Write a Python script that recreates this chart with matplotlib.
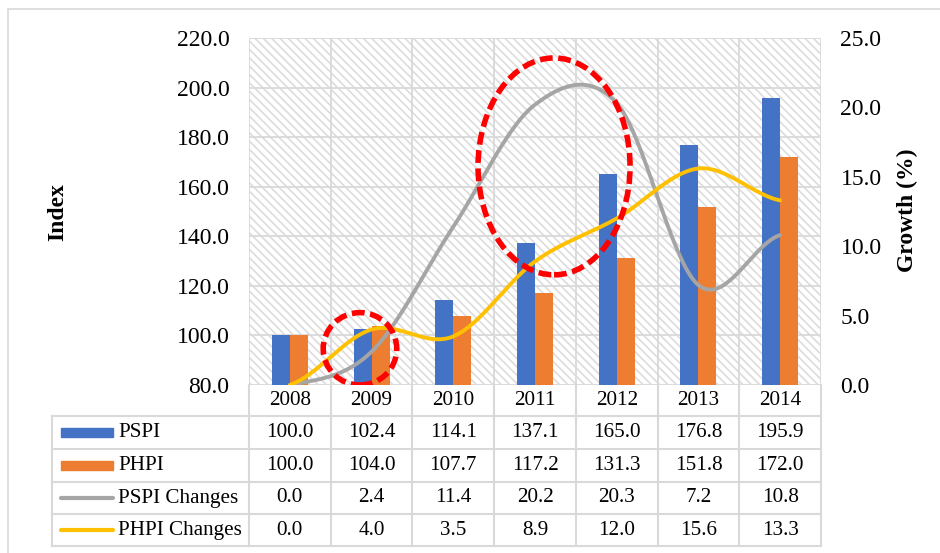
import numpy as np
import matplotlib
matplotlib.use("Agg")
import matplotlib.pyplot as plt
from matplotlib.patches import Rectangle, Ellipse
from matplotlib.lines import Line2D
from matplotlib.transforms import blended_transform_factory

plt.rcParams['font.family'] = ['Liberation Serif', 'DejaVu Serif']
plt.rcParams['hatch.linewidth'] = 1.2

# index and growth series per year
years = ['2008', '2009', '2010', '2011', '2012', '2013', '2014']
pspi = [100.0, 102.4, 114.1, 137.1, 165.0, 176.8, 195.9]
phpi = [100.0, 104.0, 107.7, 117.2, 131.3, 151.8, 172.0]
pspi_chg = [0.0, 2.4, 11.4, 20.2, 20.3, 7.2, 10.8]
phpi_chg = [0.0, 4.0, 3.5, 8.9, 12.0, 15.6, 13.3]

blue = '#4472C4'
orange = '#ED7D31'
gray = '#A5A5A5'
yellow = '#FFC000'
grid_c = '#D9D9D9'
FS_AX = 17
FS_TAB = 15.2

W, H = 940, 553


def smooth(vals, n=40):
    # Catmull-Rom style curve like a spreadsheet "smoothed line"
    y = np.asarray(vals, float)
    k = len(y)
    m = np.zeros(k)
    m[1:-1] = (y[2:] - y[:-2]) / 2
    m[0] = (y[1] - y[0]) / 2
    m[-1] = (y[-1] - y[-2]) / 2
    xs, ys = [], []
    for i in range(k - 1):
        t = np.linspace(0, 1, n, endpoint=(i == k - 2))
        h00 = 2 * t**3 - 3 * t**2 + 1
        h10 = t**3 - 2 * t**2 + t
        h01 = -2 * t**3 + 3 * t**2
        h11 = t**3 - t**2
        xs.append(i + t)
        ys.append(h00 * y[i] + h10 * m[i] + h01 * y[i + 1] + h11 * m[i + 1])
    return np.concatenate(xs), np.concatenate(ys)


def fx(px):
    return px / W


def fy(py):
    return 1 - py / H


fig = plt.figure(figsize=(W / 100, H / 100), dpi=100)

# outer chart frame
fig.patches.append(Rectangle((fx(8), fy(W)), 2, fy(9) - fy(W), transform=fig.transFigure,
                             fill=False, edgecolor=grid_c, lw=1.2))

ax = fig.add_axes([fx(249), fy(385), fx(821) - fx(249), fy(38) - fy(385)])
x = np.arange(len(years))

# hatched plot area
ax.add_patch(Rectangle((0, 0), 1, 1, transform=ax.transAxes, facecolor='white',
                       edgecolor='#DCDCDC', hatch='\\\\\\\\', lw=0, zorder=0))

bw = 0.22
ax.bar(x - bw / 2, pspi, bw, color=blue, zorder=3)
ax.bar(x + bw / 2, phpi, bw, color=orange, zorder=3)

ax.set_xlim(-0.5, len(years) - 0.5)
ax.set_ylim(80, 220)
ax.set_yticks(np.arange(80, 221, 20))
ax.set_yticklabels([f'{v:.1f}' for v in np.arange(80, 221, 20)], fontsize=FS_AX)
ax.set_xticks(np.arange(-0.5, len(years), 1.0))
ax.set_xticklabels([])
ax.grid(True, color=grid_c, lw=1.3, zorder=1)
ax.set_axisbelow(True)
ax.tick_params(length=0, pad=14)
for s in ax.spines.values():
    s.set_visible(False)

ax2 = ax.twinx()
xs, ys = smooth(pspi_chg)
ax2.plot(xs, ys, color=gray, lw=2.8, solid_capstyle='round', zorder=4)
xs, ys = smooth(phpi_chg)
ax2.plot(xs, ys, color=yellow, lw=2.8, solid_capstyle='round', zorder=4)
ax2.set_ylim(0, 25)
ax2.set_yticks(np.arange(0, 26, 5))
ax2.set_yticklabels([f'{v:.1f}' for v in np.arange(0, 26, 5)], fontsize=FS_AX)
ax2.tick_params(length=0, pad=14)
for s in ax2.spines.values():
    s.set_visible(False)

# highlight rings
for cx, cy, ew, eh in [(0.858, 94.6, 0.90, 29.2), (3.233, 168.2, 1.86, 87.5)]:
    ax2.add_patch(Ellipse((cx, cy), ew, eh, transform=ax.transData, fill=False,
                          edgecolor='#FF0000', lw=4, linestyle=(0, (2.3, 1.0)), zorder=6))
ax2.set_ylim(0, 25)
ax2.set_xlim(-0.5, len(years) - 0.5)

fig.text(fx(58), fy(212), 'Index', rotation=90, ha='center', va='center',
         fontsize=FS_AX, fontweight='bold')
fig.text(fx(907), fy(210), 'Growth (%)', rotation=90, ha='center', va='center',
         fontsize=FS_AX, fontweight='bold')

# data table below the plot
tr = blended_transform_factory(ax.transData, fig.transFigure)
rows = [385, 416, 449, 481.7, 514.3, 546]
left_px = 52


def hline(x0, x1, py):
    fig.add_artist(Line2D([fx(x0), fx(x1)], [fy(py), fy(py)], color=grid_c, lw=1.5,
                          transform=fig.transFigure))


def vline(px, y0, y1):
    fig.add_artist(Line2D([fx(px), fx(px)], [fy(y0), fy(y1)], color=grid_c, lw=1.5,
                          transform=fig.transFigure))


col_px = [249 + i * (821 - 249) / len(years) for i in range(len(years) + 1)]
for py in rows[1:]:
    hline(left_px, 821, py)
for px in col_px:
    vline(px, rows[0], rows[-1])
vline(left_px, rows[1], rows[-1])

for i, yr in enumerate(years):
    fig.text(x[i], fy((rows[0] + rows[1]) / 2), yr, transform=tr, ha='center', va='center',
             fontsize=FS_TAB)

table_rows = [('PSPI', pspi, 'bar', blue), ('PHPI', phpi, 'bar', orange),
              ('PSPI Changes', pspi_chg, 'line', gray), ('PHPI Changes', phpi_chg, 'line', yellow)]
for r, (name, vals, kind, c) in enumerate(table_rows):
    cy = (rows[r + 1] + rows[r + 2]) / 2
    if kind == 'bar':
        fig.patches.append(Rectangle((fx(61), fy(cy + 4.5)), fx(113) - fx(61), fy(cy - 4.5) - fy(cy + 4.5),
                                     transform=fig.transFigure, color=c))
    else:
        fig.add_artist(Line2D([fx(61), fx(113)], [fy(cy), fy(cy)], color=c, lw=3,
                              solid_capstyle='round', transform=fig.transFigure))
    fig.text(fx(118), fy(cy), name, ha='left', va='center', fontsize=FS_TAB)
    for i, v in enumerate(vals):
        fig.text(x[i], fy(cy), f'{v:.1f}', transform=tr, ha='center', va='center', fontsize=FS_TAB)

fig.savefig('out.png', dpi=100)
